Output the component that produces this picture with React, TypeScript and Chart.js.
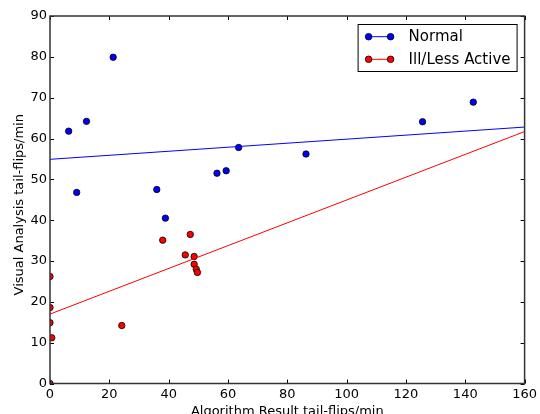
import React, { useEffect, useRef } from "react";
import { Chart, registerables } from "chart.js";

Chart.register(...registerables);

const normalX = [6.3, 9.0, 12.3, 21.3, 36.0, 38.9, 56.3, 59.4, 63.6, 86.3, 125.6, 142.7];
const normalY = [61.8, 46.8, 64.2, 79.9, 47.5, 40.5, 51.5, 52.1, 57.8, 56.2, 64.1, 68.9];
const illX = [0, 0, 0, 0.6, 0, 24.2, 38.0, 45.6, 47.3, 48.6, 48.6, 49.3, 49.7];
const illY = [26.2, 18.6, 14.9, 11.2, 0, 14.2, 35.1, 31.5, 36.5, 31.1, 29.2, 28.0, 27.2];
const fitX = [0, 160];
const normalFitY = [54.9, 62.8];
const illFitY = [17.0, 61.7];
const xTicks = [0, 20, 40, 60, 80, 100, 120, 140, 160];
const yTicks = [0, 10, 20, 30, 40, 50, 60, 70, 80, 90];
const legendLabels = ["Normal", "Ill/Less Active"];
const xTitle = "Algorithm Result tail-flips/min";
const yTitle = "Visual Analysis tail-flips/min";

const BLUE = "#0000ff";
const RED = "#ff0000";
const FONT = "'DejaVu Sans'";

const toPts = (xs: number[], ys: number[]) => xs.map((x, i) => ({ x, y: ys[i] }));

const framePlugin = {
  id: "frameTicks",
  afterDatasetsDraw(chart: any) {
    const { ctx, chartArea: a, scales } = chart;
    const xs = scales.x;
    const ys = scales.y;
    ctx.save();
    ctx.strokeStyle = "#000";
    ctx.lineWidth = 1;
    const L = 4;
    ctx.beginPath();
    xTicks.forEach((t) => {
      const px = Math.round(xs.getPixelForValue(t)) + 0.5;
      ctx.moveTo(px, a.bottom);
      ctx.lineTo(px, a.bottom - L);
      ctx.moveTo(px, a.top);
      ctx.lineTo(px, a.top + L);
    });
    yTicks.forEach((t) => {
      const py = Math.round(ys.getPixelForValue(t)) + 0.5;
      ctx.moveTo(a.left, py);
      ctx.lineTo(a.left + L, py);
      ctx.moveTo(a.right, py);
      ctx.lineTo(a.right - L, py);
    });
    ctx.stroke();
    ctx.strokeStyle = "#333";
    ctx.lineWidth = 1.5;
    ctx.strokeRect(a.left, a.top, a.right - a.left, a.bottom - a.top);

    // axis titles
    ctx.fillStyle = "#000";
    ctx.font = `13px ${FONT}`;
    ctx.textAlign = "center";
    ctx.textBaseline = "alphabetic";
    ctx.fillText(xTitle, (a.left + a.right) / 2, 415);
    ctx.save();
    ctx.translate(23, (a.top + a.bottom) / 2 + 5);
    ctx.rotate(-Math.PI / 2);
    ctx.fillText(xTitle === "" ? "" : yTitle, 0, 0);
    ctx.restore();

    // legend
    const bw = 159;
    const bh = 47;
    const bx = a.right - 8 - bw;
    const by = a.top + 8;
    ctx.fillStyle = "#fff";
    ctx.fillRect(bx, by, bw, bh);
    ctx.strokeStyle = "#000";
    ctx.lineWidth = 1;
    ctx.strokeRect(bx + 0.5, by + 0.5, bw, bh);
    const colors = [BLUE, RED];
    legendLabels.forEach((lab, i) => {
      const cy = by + 12.7 + i * 22.6;
      const x1 = bx + 11;
      const x2 = bx + 33;
      ctx.strokeStyle = colors[i];
      ctx.lineWidth = 1;
      ctx.beginPath();
      ctx.moveTo(x1, cy);
      ctx.lineTo(x2, cy);
      ctx.stroke();
      [x1, x2].forEach((mx) => {
        ctx.beginPath();
        ctx.arc(mx, cy, 3.3, 0, Math.PI * 2);
        ctx.fillStyle = colors[i];
        ctx.fill();
        ctx.strokeStyle = "#000";
        ctx.lineWidth = 0.8;
        ctx.stroke();
      });
      ctx.fillStyle = "#000";
      ctx.font = `15px ${FONT}`;
      ctx.textBaseline = "middle";
      ctx.textAlign = "left";
      ctx.fillText(lab, bx + 51, cy + 0.5);
    });
    ctx.restore();
  },
};

export default function App() {
  const ref = useRef<HTMLCanvasElement | null>(null);
  useEffect(() => {
    if (!ref.current) return;
    Chart.defaults.font.family = FONT;
    const pointCommon = {
      showLine: false,
      pointRadius: 3.2,
      pointBorderWidth: 0.8,
      pointBorderColor: "#000",
      clip: 0,
    };
    const lineCommon = {
      showLine: true,
      pointRadius: 0,
      borderWidth: 1,
      clip: 0,
    };
    const chart = new Chart(ref.current, {
      type: "scatter",
      data: {
        datasets: [
          { label: "NormalFit", data: toPts(fitX, normalFitY), borderColor: BLUE, ...lineCommon } as any,
          { label: "IllFit", data: toPts(fitX, illFitY), borderColor: RED, ...lineCommon } as any,
          { label: legendLabels[0], data: toPts(normalX, normalY), backgroundColor: BLUE, ...pointCommon } as any,
          { label: legendLabels[1], data: toPts(illX, illY), backgroundColor: RED, ...pointCommon } as any,
        ],
      },
      options: {
        animation: false,
        responsive: true,
        maintainAspectRatio: false,
        layout: { padding: { left: 0, right: 14, top: 16, bottom: 0 } },
        plugins: { legend: { display: false }, tooltip: { enabled: false } },
        scales: {
          x: {
            type: "linear",
            min: 0,
            max: 160,
            afterBuildTicks: (s: any) => {
              s.ticks = xTicks.map((v) => ({ value: v }));
            },
            afterFit: (s: any) => {
              s.height = 30.5;
            },
            grid: { display: false, drawTicks: false },
            border: { display: false },
            ticks: { color: "#000", font: { size: 13 }, padding: 3, maxRotation: 0 },
            title: { display: false },
          },
          y: {
            type: "linear",
            min: 0,
            max: 90,
            afterBuildTicks: (s: any) => {
              s.ticks = yTicks.map((v) => ({ value: v }));
            },
            afterFit: (s: any) => {
              s.width = 50;
            },
            grid: { display: false, drawTicks: false },
            border: { display: false },
            ticks: { color: "#000", font: { size: 13 }, padding: 3 },
            title: { display: false },
          },
        },
      },
      plugins: [framePlugin],
    });
    return () => chart.destroy();
  }, []);
  return (
    <div style={{ position: "fixed", left: 0, top: 0, width: 540, height: 414, background: "#fff" }}>
      <canvas ref={ref} />
    </div>
  );
}
